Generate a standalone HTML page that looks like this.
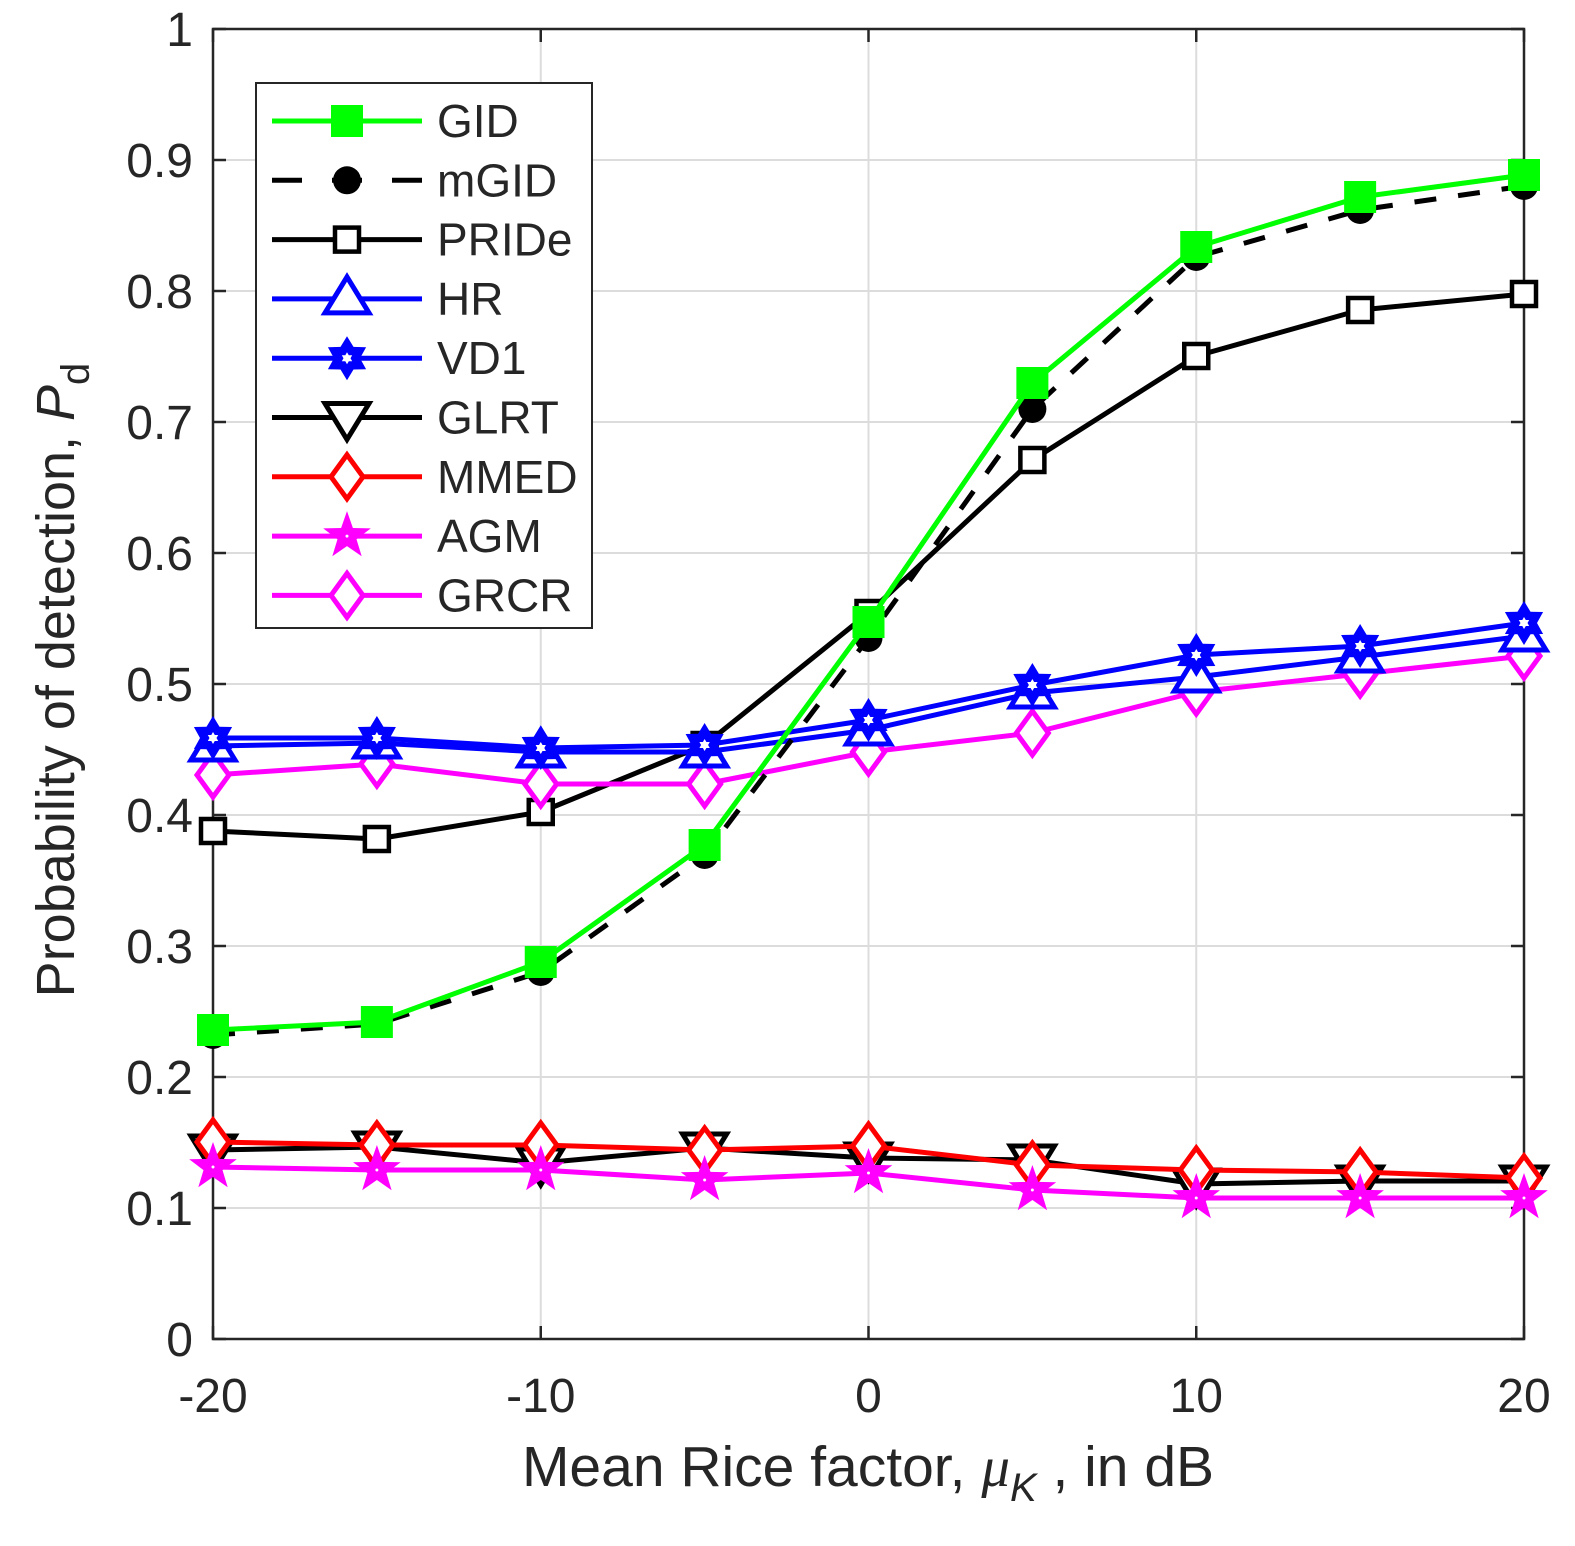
<!DOCTYPE html>
<html><head><meta charset="utf-8"><style>body{margin:0;background:#fff}svg{display:block}</style></head>
<body>
<svg id="s" width="1575" height="1546" xmlns="http://www.w3.org/2000/svg" font-family="Liberation Sans, sans-serif">
</svg>
<script>
const s=document.getElementById('s');
let h='';
const X=v=>213+(v+20)*1311/40, Y=v=>1339-v*1310;
for(let i=0;i<=10;i++){let y=Y(i/10);h+=`<line x1="213" x2="1524" y1="${y}" y2="${y}" stroke="#dcdcdc" stroke-width="2"/>`;}
for(let v=-20;v<=20;v+=10){let x=X(v);h+=`<line x1="${x}" x2="${x}" y1="29" y2="1339" stroke="#dcdcdc" stroke-width="2"/>`;}
h+=`<rect x="213" y="29" width="1311" height="1310" fill="none" stroke="#262626" stroke-width="2.5"/>`;
for(let i=0;i<=10;i++){let y=Y(i/10);h+=`<line x1="213" x2="226" y1="${y}" y2="${y}" stroke="#262626" stroke-width="2.5"/><line x1="1511" x2="1524" y1="${y}" y2="${y}" stroke="#262626" stroke-width="2.5"/>`;
h+=`<text x="193" y="${y+17}" font-size="48" text-anchor="end" fill="#262626">${i==0?'0':i==10?'1':(i/10).toFixed(1)}</text>`;}
for(let v=-20;v<=20;v+=10){let x=X(v);h+=`<line x1="${x}" x2="${x}" y1="1339" y2="1326" stroke="#262626" stroke-width="2.5"/><line x1="${x}" x2="${x}" y1="29" y2="42" stroke="#262626" stroke-width="2.5"/>`;
h+=`<text x="${x}" y="1412" font-size="48" text-anchor="middle" fill="#262626">${v}</text>`;}
h+=`<text x="868" y="1486" font-size="57" text-anchor="middle" fill="#262626">Mean Rice factor, <tspan font-family="Liberation Serif, serif" font-style="italic">μ</tspan><tspan font-style="italic" font-size="40" dy="15">K</tspan><tspan dy="-15"> , in dB</tspan></text>`;
h+=`<text transform="translate(74,680) rotate(-90)" font-size="54" text-anchor="middle" fill="#262626">Probability of detection, <tspan font-style="italic">P</tspan><tspan font-size="40" dy="15">d</tspan></text>`;
function star(cx,cy,R,r,n,rot){let p=[];for(let i=0;i<2*n;i++){let a=rot+i*Math.PI/n,rr=i%2?r:R;p.push((cx+rr*Math.sin(a)).toFixed(1)+','+(cy-rr*Math.cos(a)).toFixed(1));}return p.join(' ');}
function mk(t,x,y,c){
 switch(t){
 case 'fs':return `<rect x="${x-16}" y="${y-16}" width="32" height="32" fill="${c}"/>`;
 case 'fc':return `<circle cx="${x}" cy="${y}" r="14" fill="${c}"/>`;
 case 'os':return `<rect x="${x-12}" y="${y-12}" width="24" height="24" fill="#fff" stroke="${c}" stroke-width="4.5"/>`;
 case 'tu':return `<polygon points="${x},${y-22} ${x+22},${y+14} ${x-22},${y+14}" fill="#fff" stroke="${c}" stroke-width="5"/>`;
 case 'td':return `<polygon points="${x},${y+22} ${x+22},${y-14} ${x-22},${y-14}" fill="#fff" stroke="${c}" stroke-width="5"/>`;
 case 'hx':return `<polygon points="${star(x,y,22,13,6,0)}" fill="${c}"/><polygon points="${star(x,y,6,3.5,6,0)}" fill="#fff"/>`;
 case 'di':return `<polygon points="${x},${y-22} ${x+16},${y} ${x},${y+22} ${x-16},${y}" fill="#fff" stroke="${c}" stroke-width="5"/>`;
 case 'st':return `<polygon points="${star(x,y,25,10,5,0)}" fill="${c}"/><circle cx="${x}" cy="${y}" r="1.5" fill="#fff"/>`;
 }}
const S=[
['GID','#00ff00','fs','',[1030,1022,962,845,622,383,247,197,175]],
['mGID','#000','fc','22,22',[1035,1024,972,855,638,409,257,210,186]],
['PRIDe','#000','os','',[831,839,812,745,613,460,356,310,294]],
['HR','#0000ff','tu','',[746,743,752,752,730,693,677,657,636]],
['VD1','#0000ff','hx','',[738,738,748,745,720,685,655,646,623]],
['GLRT','#000','td','',[1150,1147,1163,1148,1158,1160,1184,1181,1181]],
['MMED','#ff0000','di','',[1142,1145,1145,1150,1146,1165,1170,1172,1178]],
['AGM','#ff00ff','st','',[1167,1170,1170,1180,1173,1190,1198,1198,1198]],
['GRCR','#ff00ff','di','',[775,764,784,784,752,733,692,674,656]]];
const order=[2,5,8,3,4,6,7,1,0];
for(const k of order){const [n,c,t,d,ys]=S[k];
 let pts=ys.map((y,i)=>X(-20+5*i).toFixed(1)+','+y).join(' ');
 h+=`<polyline points="${pts}" fill="none" stroke="${c}" stroke-width="5" stroke-linejoin="round" ${d?`stroke-dasharray="${d}"`:''}/>`;
 ys.forEach((y,i)=>h+=mk(t,X(-20+5*i),y,c));}
h+=`<rect x="256" y="83" width="336" height="545" fill="#fff" stroke="#262626" stroke-width="2"/>`;
S.forEach((e,i)=>{const [n,c,t,d]=e;let y=121+i*59.3;
 h+=`<line x1="272" x2="422" y1="${y}" y2="${y}" stroke="${c}" stroke-width="5" ${d?'stroke-dasharray="30,30"':''}/>`;
 h+=mk(t,347,y,c);
 h+=`<text x="437" y="${y+16}" font-size="46" fill="#262626">${n}</text>`;});
s.innerHTML=h;
</script>
</body></html>
